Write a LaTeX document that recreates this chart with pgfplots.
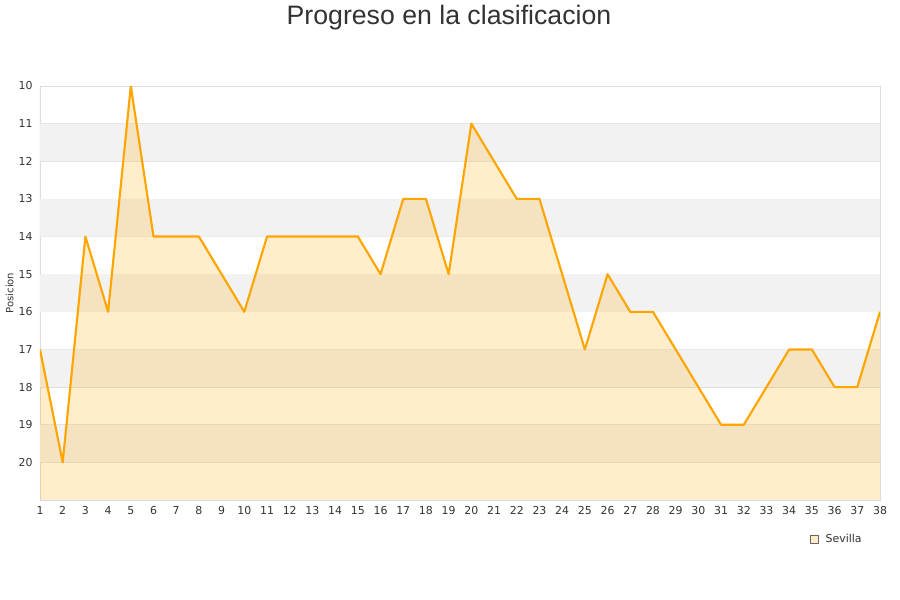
\documentclass[border=0pt]{standalone}
\usepackage{pgfplots}
\pgfplotsset{compat=1.18}
\usepackage{fontspec}
\setmainfont{DejaVu Sans}
\newfontfamily\titlefont{Liberation Sans}
\definecolor{txt}{HTML}{333333}
\definecolor{gridc}{HTML}{DDDDDD}
\definecolor{band}{HTML}{F2F2F2}
\definecolor{lineo}{HTML}{FFA500}

\begin{document}
\begin{tikzpicture}
\useasboundingbox (0,0) rectangle (675pt,450pt);
\node[font=\titlefont\fontsize{20}{24}\selectfont, text=txt] at (336.75pt,436.5pt) {Progreso en la clasificacion};
\begin{axis}[
  at={(30pt,75pt)}, anchor=south west,
  scale only axis, width=630pt, height=310.5pt,
  xmin=1, xmax=38, ymin=10, ymax=21, y dir=reverse,
  xtick={1,...,38}, ytick={10,...,20},
  tick style={draw=none},
  ticklabel style={font=\fontsize{8.2}{10}\selectfont, text=txt},
  /pgf/number format/assume math mode=true,
  ymajorgrids, grid style={gridc, line width=0.6pt},
  axis line style={draw=gridc, line width=0.7pt},
  ylabel={Posicion}, ylabel style={font=\fontsize{7.5}{9}\selectfont, text=txt},
  ylabel shift=-3pt,
  xticklabel style={yshift=-1pt},
  yticklabel style={xshift=-2pt},
  legend style={draw=none, fill=none, at={(axis cs:34.75,21.75)}, anchor=north west,
    font=\fontsize{8.2}{10}\selectfont, text=txt},
  legend image code/.code={\draw[draw=gray!80!black, fill=lineo!22, line width=0.4pt] (0pt,-3pt) rectangle (6pt,3pt);},
  legend cell align=left,
  clip=true,
]
\addplot[draw=none, fill=band, forget plot] coordinates {(1,11) (38,11) (38,12) (1,12)} \closedcycle;
\addplot[draw=none, fill=band, forget plot] coordinates {(1,13) (38,13) (38,14) (1,14)} \closedcycle;
\addplot[draw=none, fill=band, forget plot] coordinates {(1,15) (38,15) (38,16) (1,16)} \closedcycle;
\addplot[draw=none, fill=band, forget plot] coordinates {(1,17) (38,17) (38,18) (1,18)} \closedcycle;
\addplot[draw=none, fill=band, forget plot] coordinates {(1,19) (38,19) (38,20) (1,20)} \closedcycle;
\pgfplotstableread{
x y
1 17
2 20
3 14
4 16
5 10
6 14
7 14
8 14
9 15
10 16
11 14
12 14
13 14
14 14
15 14
16 15
17 13
18 13
19 15
20 11
21 12
22 13
23 13
24 15
25 17
26 15
27 16
28 16
29 17
30 18
31 19
32 19
33 18
34 17
35 17
36 18
37 18
38 16
}\datatable
\addplot[draw=none, fill=lineo, fill opacity=0.2, forget plot] table {\datatable} |- (axis cs:1,21) -- cycle;
\addplot[draw=lineo, line width=1.6pt, line join=round] table {\datatable};
\addlegendentry{\hspace{3pt}Sevilla}
\end{axis}
\end{tikzpicture}
\end{document}
